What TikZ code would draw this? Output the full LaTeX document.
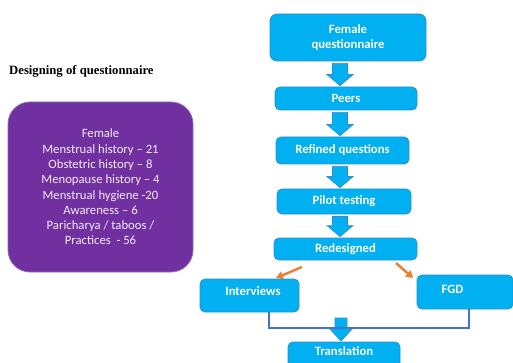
\documentclass[tikz,border=0pt]{standalone}
\usepackage{fontspec}
\setmainfont{Liberation Serif}
\newfontfamily\calibri[Ligatures=TeX]{Carlito}
\usetikzlibrary{calc,arrows.meta}
\definecolor{boxblue}{HTML}{00B0F0}
\definecolor{boxedge}{HTML}{2E8FD0}
\definecolor{purplebox}{HTML}{7030A0}
\definecolor{purpleedge}{HTML}{8E6BB8}
\definecolor{lavtext}{HTML}{F3ECF8}
\definecolor{orangearr}{HTML}{ED7D31}
\definecolor{linkblue}{HTML}{4472C4}
\tikzset{
  bluebox/.style={draw=boxedge, fill=boxblue, line width=0.8pt, rounded corners=5pt,
    inner sep=0pt, text=white, font=\calibri\bfseries\fontsize{12.7}{15}\selectfont, align=center},
  boxtext/.style={text=white, font=\calibri\bfseries\fontsize{12.7}{15}\selectfont, inner sep=0pt},
  barrow/.style={draw=boxedge, fill=boxblue, line width=0.7pt, line join=miter},
  orangelink/.style={draw=orangearr, line width=2.4pt, -{Triangle[length=7pt,width=8pt]}},
  bluelink/.style={draw=linkblue, line width=2pt},
}
\newcommand\blockarrow[3]{%
  \path[barrow] let \p1=(#1.south), \p2=(#2.north) in
    (#3pt-7.5pt,\y1-2pt) -- (#3pt+7.5pt,\y1-2pt) -- (#3pt+7.5pt,\y2+12pt) -- (#3pt+13pt,\y2+12pt)
    -- (#3pt,\y2+1pt) -- (#3pt-13pt,\y2+12pt) -- (#3pt-7.5pt,\y2+12pt) -- cycle;}
\begin{document}
\begin{tikzpicture}[x=1pt,y=-1pt]
\useasboundingbox (0,0) rectangle (513,363);
\clip (0,0) rectangle (513,363);
% title
\node[anchor=west, inner sep=0pt, font=\bfseries\fontsize{12.7}{15}\selectfont] (title) at (9,71) {Designing of questionnaire};
% purple box
\node[draw=purpleedge, fill=purplebox, line width=0.8pt, rounded corners=22pt, minimum width=185pt, minimum height=170pt,
  text=lavtext, align=center, font=\calibri\fontsize{12.7}{15.3}\selectfont] (female) at (100.5,187)
  {Female\\Menstrual history – 21\\Obstetric history – 8\\Menopause history – 4\\Menstrual hygiene -20\\Awareness – 6\\Paricharya / taboos /\\Practices\ \ - 56};
% flow boxes
\node[bluebox, minimum width=156pt, minimum height=47pt, rounded corners=7pt] (fq) at (348,37.5) {Female\\questionnaire};
\node[bluebox, minimum width=142pt, minimum height=23pt] (peers) at (346,98.5) {Peers};
\node[bluebox, minimum width=133pt, minimum height=27pt] (refined) at (342.5,150.5) {Refined questions};
\node[bluebox, minimum width=134pt, minimum height=25pt] (pilot) at (344,201.5) {Pilot testing};
\node[bluebox, minimum width=143pt, minimum height=22pt] (redesigned) at (345.5,249) {Redesigned};
\node[bluebox, minimum width=99pt, minimum height=33pt,
  label={[boxtext,xshift=3.5pt,yshift=4.5pt]center:Interviews}] (interviews) at (249.5,295.5) {};
\node[bluebox, minimum width=96pt, minimum height=34pt,
  label={[boxtext,xshift=-12.5pt,yshift=3pt]center:FGD}] (fgd) at (465,292) {};
\node[bluebox, minimum width=112pt, minimum height=34pt,
  label={[boxtext,yshift=8pt]center:Translation}] (translation) at (344,359) {};
% block arrows
\blockarrow{fq}{peers}{340}
\blockarrow{peers}{refined}{340}
\blockarrow{refined}{pilot}{340}
\blockarrow{pilot}{redesigned}{340}
% orange arrows
\coordinate (oL1) at (302,267);
\coordinate (oL2) at (276,278);
\coordinate (oR1) at (396,263);
\coordinate (oR2) at (413,278);
\draw[orangelink] (oL1) -- (oL2);
\draw[orangelink] (oR1) -- (oR2);
% connectors to translation
\coordinate (join) at (341,327.5);
\path[barrow] (335,318) -- (347,318) -- (347,328) -- (353,328) -- (341,341) -- (329,328) -- (335,328) -- cycle;
\draw[bluelink] (interviews.south -| 269,0) |- (join) -| (fgd.south -| 469,0);
\end{tikzpicture}
\end{document}
